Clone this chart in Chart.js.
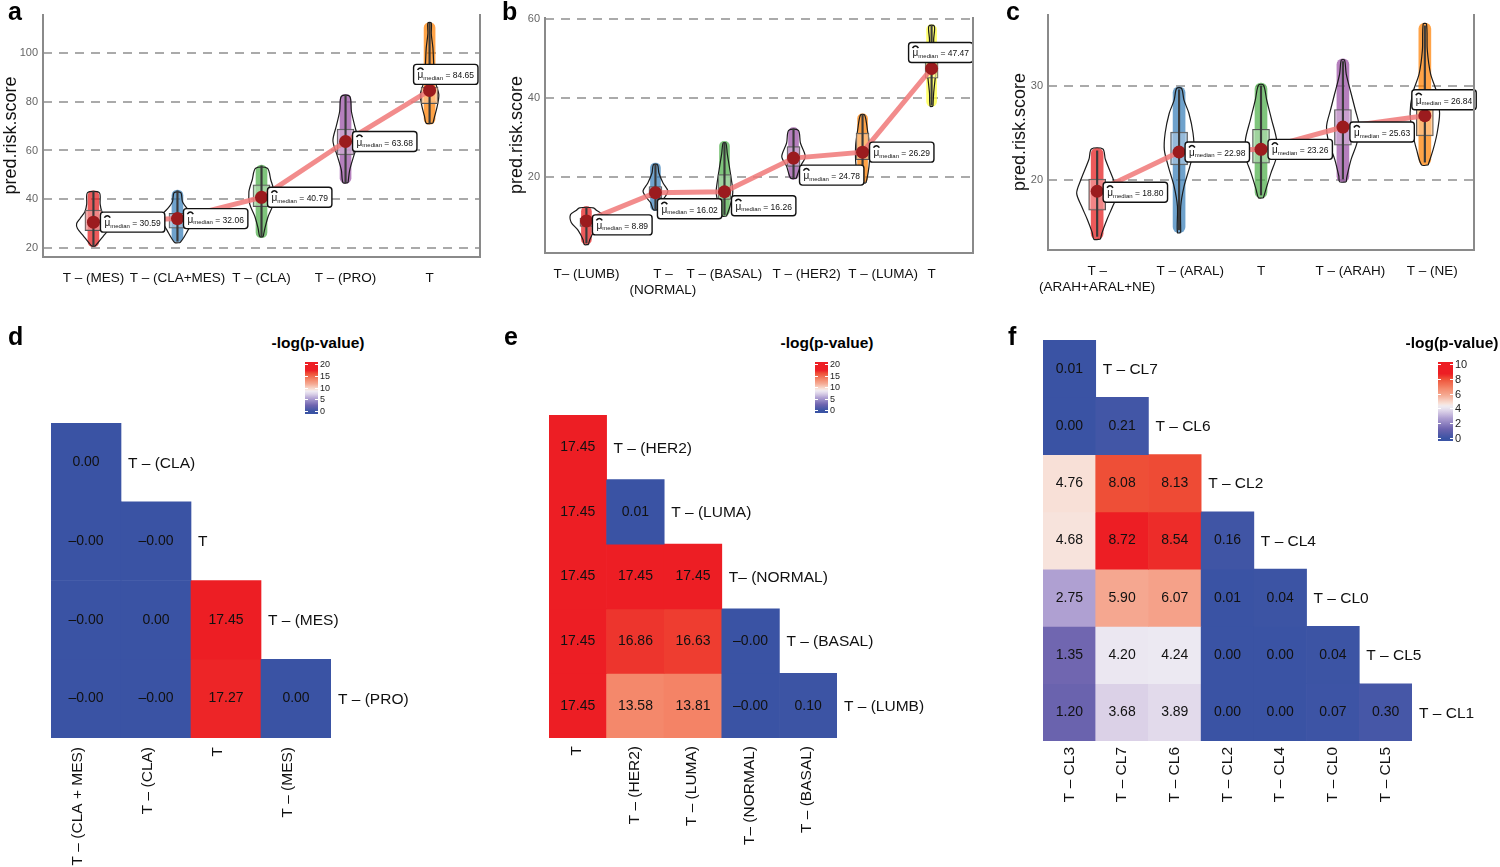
<!DOCTYPE html>
<html>
<head>
<meta charset="utf-8">
<script src="https://cdn.jsdelivr.net/npm/chart.js@4.4.1/dist/chart.umd.min.js"></script>
<style>
  html, body { margin: 0; padding: 0; background: #fff; }
  body { width: 1500px; height: 867px; position: relative; overflow: hidden; font-family: "Liberation Sans", Arial, sans-serif; }
  .panel { position: absolute; }
  .tag { position: absolute; font-weight: bold; font-size: 25px; line-height: 1; }
  .lg-title { position: absolute; font-weight: bold; font-size: 15.5px; line-height: 1; transform: translateX(-50%); white-space: nowrap; }
  .lg-bar { position: absolute; }
  .lg-dash { position: absolute; height: 1px; width: 3px; background: #fff; }
  .lg-tick { position: absolute; line-height: 1; color: #222; }
</style>
</head>
<body>
<canvas id="chartA" class="panel" width="500" height="300" style="left:0;top:0"></canvas>
<canvas id="chartB" class="panel" width="500" height="300" style="left:500px;top:0"></canvas>
<canvas id="chartC" class="panel" width="500" height="300" style="left:1000px;top:0"></canvas>
<canvas id="chartD" class="panel" width="450" height="467" style="left:0;top:400px"></canvas>
<canvas id="chartE" class="panel" width="480" height="467" style="left:500px;top:400px"></canvas>
<canvas id="chartF" class="panel" width="500" height="537" style="left:1000px;top:330px"></canvas>
<div class="tag" style="left:8px;top:-1px">a</div>
<div class="tag" style="left:502px;top:-1px">b</div>
<div class="tag" style="left:1006px;top:-1px">c</div>
<div class="tag" style="left:8px;top:324px">d</div>
<div class="tag" style="left:504px;top:324px">e</div>
<div class="tag" style="left:1008px;top:324px">f</div>
<div id="legends"></div>
<script>
// ---- panel a ----
const aCategories = ['T – (MES)', 'T – (CLA+MES)', 'T – (CLA)', 'T – (PRO)', 'T'];
const aMedian = [30.59, 32.06, 40.79, 63.68, 84.65];
const aQ1 = [27.1, 28.1, 37.0, 58.2, 79.2];
const aQ3 = [35.6, 34.2, 45.9, 68.8, 86.0];
const aMin = [20.5, 22.5, 24.2, 46.5, 70.8];
const aMax = [43.5, 43.8, 54.0, 83.0, 112.5];
// violin half widths (category units) at score values, bottom to top
const aViolin = [
  [[20.8, 0.02], [22, 0.05], [25, 0.12], [28, 0.19], [30, 0.2], [32, 0.16], [35, 0.1], [38, 0.08], [42.7, 0.07]],
  [[22.2, 0.03], [24, 0.07], [27, 0.12], [30, 0.17], [33, 0.2], [36, 0.12], [39, 0.06], [42.7, 0.04]],
  [[24.7, 0.02], [28, 0.04], [33, 0.08], [38, 0.14], [43, 0.15], [48, 0.11], [52.7, 0.07]],
  [[46.8, 0.03], [52, 0.05], [58, 0.1], [64, 0.15], [70, 0.11], [76, 0.07], [82.2, 0.05]],
  [[71.2, 0.04], [74, 0.06], [78, 0.09], [83, 0.11], [88, 0.07], [95, 0.05], [102, 0.04], [108, 0.02], [112.3, 0.02]]
];
const aYTicks = [20, 40, 60, 80, 100];

// ---- panel b ----
// leading spaces reproduce the off-centre label placement of the original
const bCategories = ['T– (LUMB)', ['    T –', '    (NORMAL)'], 'T – (BASAL)', '       T – (HER2)', '           T – (LUMA)', 'T'];
const bMedian = [8.89, 16.02, 16.26, 24.78, 26.29, 47.47];
const bQ1 = [7.5, 14.7, 14.3, 22.7, 24.4, 45.0];
const bQ3 = [9.6, 17.6, 20.6, 27.7, 31.1, 49.6];
const bMin = [3.0, 11.5, 10.2, 19.4, 18.5, 37.9];
const bMax = [12.5, 23.5, 29.0, 32.5, 36.0, 58.5];
const bViolin = [
  [[2.9, 0.03], [4.2, 0.05], [6.5, 0.12], [8.5, 0.22], [10.5, 0.23], [11.5, 0.15], [12.2, 0.1]],
  [[11.7, 0.03], [13.5, 0.07], [15, 0.14], [16.5, 0.18], [18.5, 0.11], [21, 0.05], [23.1, 0.03]],
  [[10.1, 0.03], [12.6, 0.08], [16, 0.12], [19.3, 0.1], [22.7, 0.07], [26, 0.04], [28.6, 0.02]],
  [[19.7, 0.04], [22.7, 0.1], [25.2, 0.17], [28.6, 0.1], [31.8, 0.07]],
  [[18.5, 0.05], [21, 0.08], [24, 0.1], [28, 0.1], [32, 0.07], [35.7, 0.03]],
  [[37.9, 0.02], [41.2, 0.03], [44.6, 0.05], [48, 0.07], [51.3, 0.04], [54.7, 0.03], [58.2, 0.04]]
];
const bYTicks = [20, 40, 60];

// ---- panel c ----
const cCategories = [['T –', '(ARAH+ARAL+NE)'], '      T – (ARAL)', 'T', '    T – (ARAH)', '    T – (NE)'];
const cMedian = [18.80, 22.98, 23.26, 25.63, 26.84];
const cQ1 = [16.8, 21.6, 21.8, 23.7, 24.7];
const cQ3 = [20.1, 25.1, 25.4, 27.5, 28.5];
const cMin = [13.7, 14.4, 18.1, 19.8, 21.6];
const cMax = [23.4, 29.9, 30.3, 32.9, 36.7];
const cViolin = [
  [[13.7, 0.04], [14.4, 0.06], [15.8, 0.12], [17.2, 0.19], [18.6, 0.25], [20, 0.2], [22.2, 0.1], [23.3, 0.07]],
  [[14.4, 0.02], [17.2, 0.02], [19.3, 0.06], [21.4, 0.13], [23.2, 0.18], [25, 0.17], [27.1, 0.12], [28.5, 0.06], [29.75, 0.03]],
  [[18.1, 0.03], [19, 0.06], [20.7, 0.12], [22.5, 0.19], [24.3, 0.19], [26.4, 0.13], [28.5, 0.07], [30.1, 0.03]],
  [[19.8, 0.04], [20.4, 0.05], [22.2, 0.1], [23.9, 0.17], [25.7, 0.2], [27.5, 0.15], [29.2, 0.1], [31.3, 0.04], [32.75, 0.02]],
  [[21.6, 0.04], [23.2, 0.1], [25, 0.15], [27.1, 0.18], [29.2, 0.15], [31.3, 0.07], [33.8, 0.03], [36.6, 0.02]]
];
const cYTicks = [20, 30];

// ---- heatmaps: -log(p-value) ----
const dRows = ['T – (CLA)', 'T', 'T – (MES)', 'T – (PRO)'];
const dCols = ['T – (CLA + MES)', 'T – (CLA)', 'T', 'T – (MES)'];
const dValues = [
  [0.00],
  [-0.001, -0.001],
  [-0.001, 0.00, 17.45],
  [-0.001, -0.001, 17.27, 0.00]
];

const eRows = ['T – (HER2)', 'T – (LUMA)', 'T– (NORMAL)', 'T – (BASAL)', 'T – (LUMB)'];
const eCols = ['T', 'T – (HER2)', 'T – (LUMA)', 'T– (NORMAL)', 'T – (BASAL)'];
const eValues = [
  [17.45],
  [17.45, 0.01],
  [17.45, 17.45, 17.45],
  [17.45, 16.86, 16.63, -0.001],
  [17.45, 13.58, 13.81, -0.001, 0.10]
];

const fRows = ['T – CL7', 'T – CL6', 'T – CL2', 'T – CL4', 'T – CL0', 'T – CL5', 'T – CL1'];
const fCols = ['T – CL3', 'T – CL7', 'T – CL6', 'T – CL2', 'T – CL4', 'T – CL0', 'T – CL5'];
const fValues = [
  [0.01],
  [0.00, 0.21],
  [4.76, 8.08, 8.13],
  [4.68, 8.72, 8.54, 0.16],
  [2.75, 5.90, 6.07, 0.01, 0.04],
  [1.35, 4.20, 4.24, 0.00, 0.00, 0.04],
  [1.20, 3.68, 3.89, 0.00, 0.00, 0.07, 0.30]
];

const set1 = ['#E41A1C', '#377EB8', '#4DAF4A', '#984EA3', '#FF7F00', '#FFFF33'];
const FONT = '"Liberation Sans", Arial, sans-serif';

function hexRgb(hex) {
	const n = parseInt(hex.slice(1), 16);
	return [(n >> 16) & 255, (n >> 8) & 255, n & 255];
}
function rgba(hex, a) {
	const [r, g, b] = hexRgb(hex);
	return `rgba(${r},${g},${b},${a})`;
}
function tint(hex, t, a) {
	const [r, g, b] = hexRgb(hex).map(c => Math.round(c + (255 - c) * t));
	return `rgba(${r},${g},${b},${a})`;
}

// diverging fill: blue -> purple -> white below the midpoint, white -> salmon -> red above it
const lowStops = [[0, [58, 83, 164]], [0.3, [110, 100, 175]], [0.63, [175, 160, 210]], [0.85, [220, 210, 232]], [1, [240, 238, 244]]];
const highStops = [[0, [240, 238, 244]], [0.09, [248, 224, 215]], [0.35, [245, 168, 145]], [0.56, [244, 135, 106]], [0.85, [238, 80, 55]], [1, [237, 30, 36]]];
function ramp(stops, t) {
	t = Math.max(0, Math.min(1, t));
	for (let k = 1; k < stops.length; k++) {
		if (t <= stops[k][0]) {
			const [t0, c0] = stops[k - 1], [t1, c1] = stops[k];
			const u = (t - t0) / (t1 - t0);
			const c = c0.map((v, i) => Math.round(v + (c1[i] - v) * u));
			return `rgb(${c[0]},${c[1]},${c[2]})`;
		}
	}
	const c = stops[stops.length - 1][1];
	return `rgb(${c[0]},${c[1]},${c[2]})`;
}
function fillFor(v, vmax) {
	const mid = vmax / 2;
	if (v <= mid) return ramp(lowStops, v / mid);
	return ramp(highStops, (v - mid) / (vmax - mid));
}

const framePlugin = {
	id: 'frame',
	afterDraw(chart) {
		const { ctx, chartArea: a } = chart;
		ctx.save();
		ctx.strokeStyle = '#8a8a8a';
		ctx.lineWidth = 2;
		ctx.beginPath();
		ctx.moveTo(a.left, a.top);
		ctx.lineTo(a.left, a.bottom);
		ctx.lineTo(a.right, a.bottom);
		ctx.lineTo(a.right, a.top);
		ctx.stroke();
		ctx.restore();
	}
};

function medianLabels(values, offsets) {
	return {
		id: 'medianLabels',
		afterDatasetsDraw(chart) {
			const { ctx, scales: { x, y } } = chart;
			values.forEach((v, i) => {
				const px = x.getPixelForValue(i);
				const py = y.getPixelForValue(v);
				const num = ' = ' + v.toFixed(2);
				ctx.save();
				ctx.font = '10px ' + FONT;
				const wMu = ctx.measureText('μ').width;
				ctx.font = '6px ' + FONT;
				const wSub = ctx.measureText('median').width;
				ctx.font = '8.5px ' + FONT;
				const wNum = ctx.measureText(num).width;
				const w = wMu + wSub + wNum + 8, h = 20;
				const left = px + offsets[i][0], top = py + offsets[i][1] - h / 2;
				ctx.beginPath();
				ctx.roundRect(left, top, w, h, 3);
				ctx.fillStyle = '#fff';
				ctx.fill();
				ctx.lineWidth = 1.4;
				ctx.strokeStyle = '#111';
				ctx.stroke();
				const base = top + h / 2 + 4;
				let tx = left + 4;
				ctx.fillStyle = '#111';
				ctx.textBaseline = 'alphabetic';
				ctx.font = '10px ' + FONT;
				ctx.fillText('μ', tx, base);
				ctx.beginPath();
				ctx.moveTo(tx + wMu / 2 - 3, base - 8.5);
				ctx.quadraticCurveTo(tx + wMu / 2, base - 12.5, tx + wMu / 2 + 3, base - 8.5);
				ctx.lineWidth = 1.5;
				ctx.stroke();
				tx += wMu;
				ctx.font = '6px ' + FONT;
				ctx.fillText('median', tx, base + 1.5);
				tx += wSub;
				ctx.font = '8.5px ' + FONT;
				ctx.fillText(num, tx, base);
				ctx.restore();
			});
		}
	};
}

function violinPanel(id, spec) {
	const idx = spec.categories.map((_, i) => i);
	const datasets = [];
	datasets.push({
		type: 'bar', order: 9, grouped: false,
		data: idx.map(i => ({ x: i, y: [spec.min[i], spec.max[i]] })),
		backgroundColor: idx.map(i => rgba(set1[i], 0.72)),
		barThickness: spec.bandWidth, borderRadius: spec.bandWidth / 2, borderSkipped: false
	});
	spec.violins.forEach((prof, i) => {
		const right = prof.map(([v, w]) => ({ x: i + w, y: v }));
		const left = prof.slice().reverse().map(([v, w]) => ({ x: i - w, y: v }));
		datasets.push({
			type: 'line', order: 8,
			data: right.concat(left, [right[0]]),
			borderColor: '#1b1b1b', borderWidth: 1.2, pointRadius: 0, tension: 0.3, fill: false
		});
	});
	datasets.push({
		type: 'bar', order: 7, grouped: false,
		data: idx.map(i => ({ x: i, y: [spec.q1[i], spec.q3[i]] })),
		backgroundColor: idx.map(i => tint(set1[i], 0.55, 0.7)),
		borderColor: '#555', borderWidth: 1, borderSkipped: false,
		barThickness: spec.boxWidth
	});
	datasets.push({
		type: 'bar', order: 6, grouped: false,
		data: idx.map(i => ({ x: i, y: [spec.min[i] + 0.3, spec.max[i] - 0.3] })),
		backgroundColor: '#3a3a3a', barThickness: 1.5
	});
	datasets.push({
		type: 'line', order: 1,
		data: idx.map(i => ({ x: i, y: spec.median[i] })),
		borderColor: 'rgba(240,120,120,0.85)', borderWidth: 5, tension: 0,
		pointRadius: 6.5, pointBackgroundColor: '#9b1b1e', pointBorderWidth: 0
	});

	new Chart(document.getElementById(id), {
		type: 'bar',
		data: { datasets },
		options: {
			responsive: false, animation: false, events: [],
			layout: { padding: spec.padding },
			plugins: { legend: { display: false }, tooltip: { enabled: false } },
			scales: {
				x: {
					type: 'linear', offset: false, min: -0.6, max: spec.categories.length - 0.4,
					afterBuildTicks: s => { s.ticks = idx.map(i => ({ value: i })); },
					afterFit: s => { s.height = spec.xHeight; },
					grid: { display: false }, border: { display: false },
					ticks: {
						autoSkip: false, maxRotation: 0, padding: 5, color: '#111',
						font: { size: 13.5, family: FONT },
						callback: v => spec.categories[v]
					}
				},
				y: {
					min: spec.yMin, max: spec.yMax,
					afterBuildTicks: s => { s.ticks = spec.yTicks.map(v => ({ value: v })); },
					afterFit: s => { s.width = spec.yWidth; },
					grid: { color: '#aaaaaa', lineWidth: 2, drawTicks: false },
					border: { display: false, dash: [9, 7] },
					ticks: { color: '#666', padding: 5, font: { size: 11, family: FONT } },
					title: {
						display: true, text: 'pred.risk.score', color: '#111',
						font: { size: 18, family: FONT }, padding: { top: spec.titlePad, bottom: 0 }
					}
				}
			}
		},
		plugins: [framePlugin, medianLabels(spec.median, spec.labelOffsets)]
	});
}

function heatText(rows, values) {
	return {
		id: 'heatText',
		afterDatasetsDraw(chart) {
			const ctx = chart.ctx;
			ctx.save();
			ctx.textBaseline = 'middle';
			ctx.fillStyle = '#111';
			values.forEach((row, i) => {
				const meta = chart.getDatasetMeta(i);
				ctx.font = '14px ' + FONT;
				ctx.textAlign = 'center';
				row.forEach((v, j) => {
					const bar = meta.data[j];
					ctx.fillText(v.toFixed(2).replace('-', '–'), bar.x, (bar.y + bar.base) / 2);
				});
				const last = meta.data[row.length - 1];
				ctx.font = '15.5px ' + FONT;
				ctx.textAlign = 'left';
				ctx.fillText(rows[i], last.x + last.width / 2 + 7, (last.y + last.base) / 2 + 1);
			});
			ctx.restore();
		}
	};
}

function heatPanel(id, rows, cols, values, spec) {
	const vmax = Math.max(...values.flat());
	const datasets = rows.map((r, i) => ({
		data: cols.map((c, j) => (j <= i ? [i, i + 1] : null)),
		backgroundColor: cols.map((c, j) => (j <= i ? fillFor(values[i][j], vmax) : 'rgba(0,0,0,0)')),
		grouped: false, barPercentage: 1, categoryPercentage: 1, borderWidth: 0
	}));
	new Chart(document.getElementById(id), {
		type: 'bar',
		data: { labels: cols, datasets },
		options: {
			responsive: false, animation: false, events: [],
			layout: { padding: spec.padding },
			plugins: { legend: { display: false }, tooltip: { enabled: false } },
			scales: {
				x: {
					afterFit: s => { s.height = spec.xHeight; },
					grid: { display: false }, border: { display: false },
					ticks: {
						autoSkip: false, minRotation: 90, maxRotation: 90, padding: spec.tickPad,
						labelOffset: spec.labelShift, color: '#111', font: { size: 15.5, family: FONT }
					}
				},
				y: { type: 'linear', min: 0, max: rows.length, reverse: true, display: false }
			}
		},
		plugins: [heatText(rows, values)]
	});
	return vmax;
}

function colorLegend(spec, vmax) {
	const host = document.getElementById('legends');
	const title = document.createElement('div');
	title.className = 'lg-title';
	title.style.left = spec.cx + 'px';
	title.style.top = '335px';
	title.textContent = '-log(p-value)';
	host.appendChild(title);

	const inset = 2.5;
	const span = spec.h - 2 * inset;
	const stops = [];
	for (let k = 0; k <= 40; k++) {
		const v = spec.lmax * k / 40;
		stops.push(`${fillFor(v, vmax)} ${(inset + span * k / 40).toFixed(1)}px`);
	}
	const bar = document.createElement('div');
	bar.className = 'lg-bar';
	Object.assign(bar.style, {
		left: spec.x + 'px', top: spec.y + 'px', width: spec.w + 'px', height: spec.h + 'px',
		background: `linear-gradient(to top, ${stops.join(', ')})`
	});
	host.appendChild(bar);

	for (let v = 0; v <= spec.lmax; v += spec.step) {
		const ty = spec.y + spec.h - inset - span * v / spec.lmax;
		[spec.x, spec.x + spec.w - 3].forEach(dx => {
			const d = document.createElement('div');
			d.className = 'lg-dash';
			d.style.left = dx + 'px';
			d.style.top = (ty - 0.5) + 'px';
			host.appendChild(d);
		});
		const t = document.createElement('div');
		t.className = 'lg-tick';
		t.style.left = (spec.x + spec.w + 2) + 'px';
		t.style.top = (ty - spec.font / 2) + 'px';
		t.style.fontSize = spec.font + 'px';
		t.textContent = v;
		host.appendChild(t);
	}
}

violinPanel('chartA', {
	categories: aCategories, median: aMedian, q1: aQ1, q3: aQ3, min: aMin, max: aMax, violins: aViolin,
	yMin: 16.3, yMax: 116, yTicks: aYTicks, bandWidth: 11, boxWidth: 17,
	padding: { top: 14, right: 20, left: 0, bottom: 0 }, yWidth: 43, xHeight: 43, titlePad: 0,
	labelOffsets: [[7, 0], [6, 0], [6, 0], [7, 0], [-16, -16]]
});
violinPanel('chartB', {
	categories: bCategories, median: bMedian, q1: bQ1, q3: bQ3, min: bMin, max: bMax, violins: bViolin,
	yMin: 0.76, yMax: 60.5, yTicks: bYTicks, bandWidth: 10, boxWidth: 13,
	padding: { top: 17, right: 27, left: 0, bottom: 0 }, yWidth: 45, xHeight: 47, titlePad: 6,
	labelOffsets: [[6, 4], [2, 16], [7, 14], [6, 17], [7, 0], [-23, -16]]
});
violinPanel('chartC', {
	categories: cCategories, median: cMedian, q1: cQ1, q3: cQ3, min: cMin, max: cMax, violins: cViolin,
	yMin: 12.55, yMax: 37.66, yTicks: cYTicks, bandWidth: 12, boxWidth: 17,
	padding: { top: 14, right: 26, left: 0, bottom: 0 }, yWidth: 48, xHeight: 50, titlePad: 9,
	labelOffsets: [[6, 1], [6, 0], [7, 0], [7, 5], [-13, -16]]
});

const dMax = heatPanel('chartD', dRows, dCols, dValues, { padding: { left: 51, top: 23, right: 119, bottom: 0 }, xHeight: 129, tickPad: 1, labelShift: -8 });
const eMax = heatPanel('chartE', eRows, eCols, eValues, { padding: { left: 49, top: 15, right: 143, bottom: 0 }, xHeight: 129, tickPad: 0, labelShift: -1 });
const fMax = heatPanel('chartF', fRows, fCols, fValues, { padding: { left: 43, top: 10, right: 88, bottom: 0 }, xHeight: 126, tickPad: -2, labelShift: 0 });

colorLegend({ cx: 318, x: 305, y: 362, w: 13, h: 52, lmax: 20, step: 5, font: 9 }, dMax);
colorLegend({ cx: 827, x: 815, y: 362, w: 13, h: 51, lmax: 20, step: 5, font: 9 }, eMax);
colorLegend({ cx: 1452, x: 1438, y: 362, w: 15, h: 79, lmax: 10, step: 2, font: 11 }, fMax);
</script>
</body>
</html>
